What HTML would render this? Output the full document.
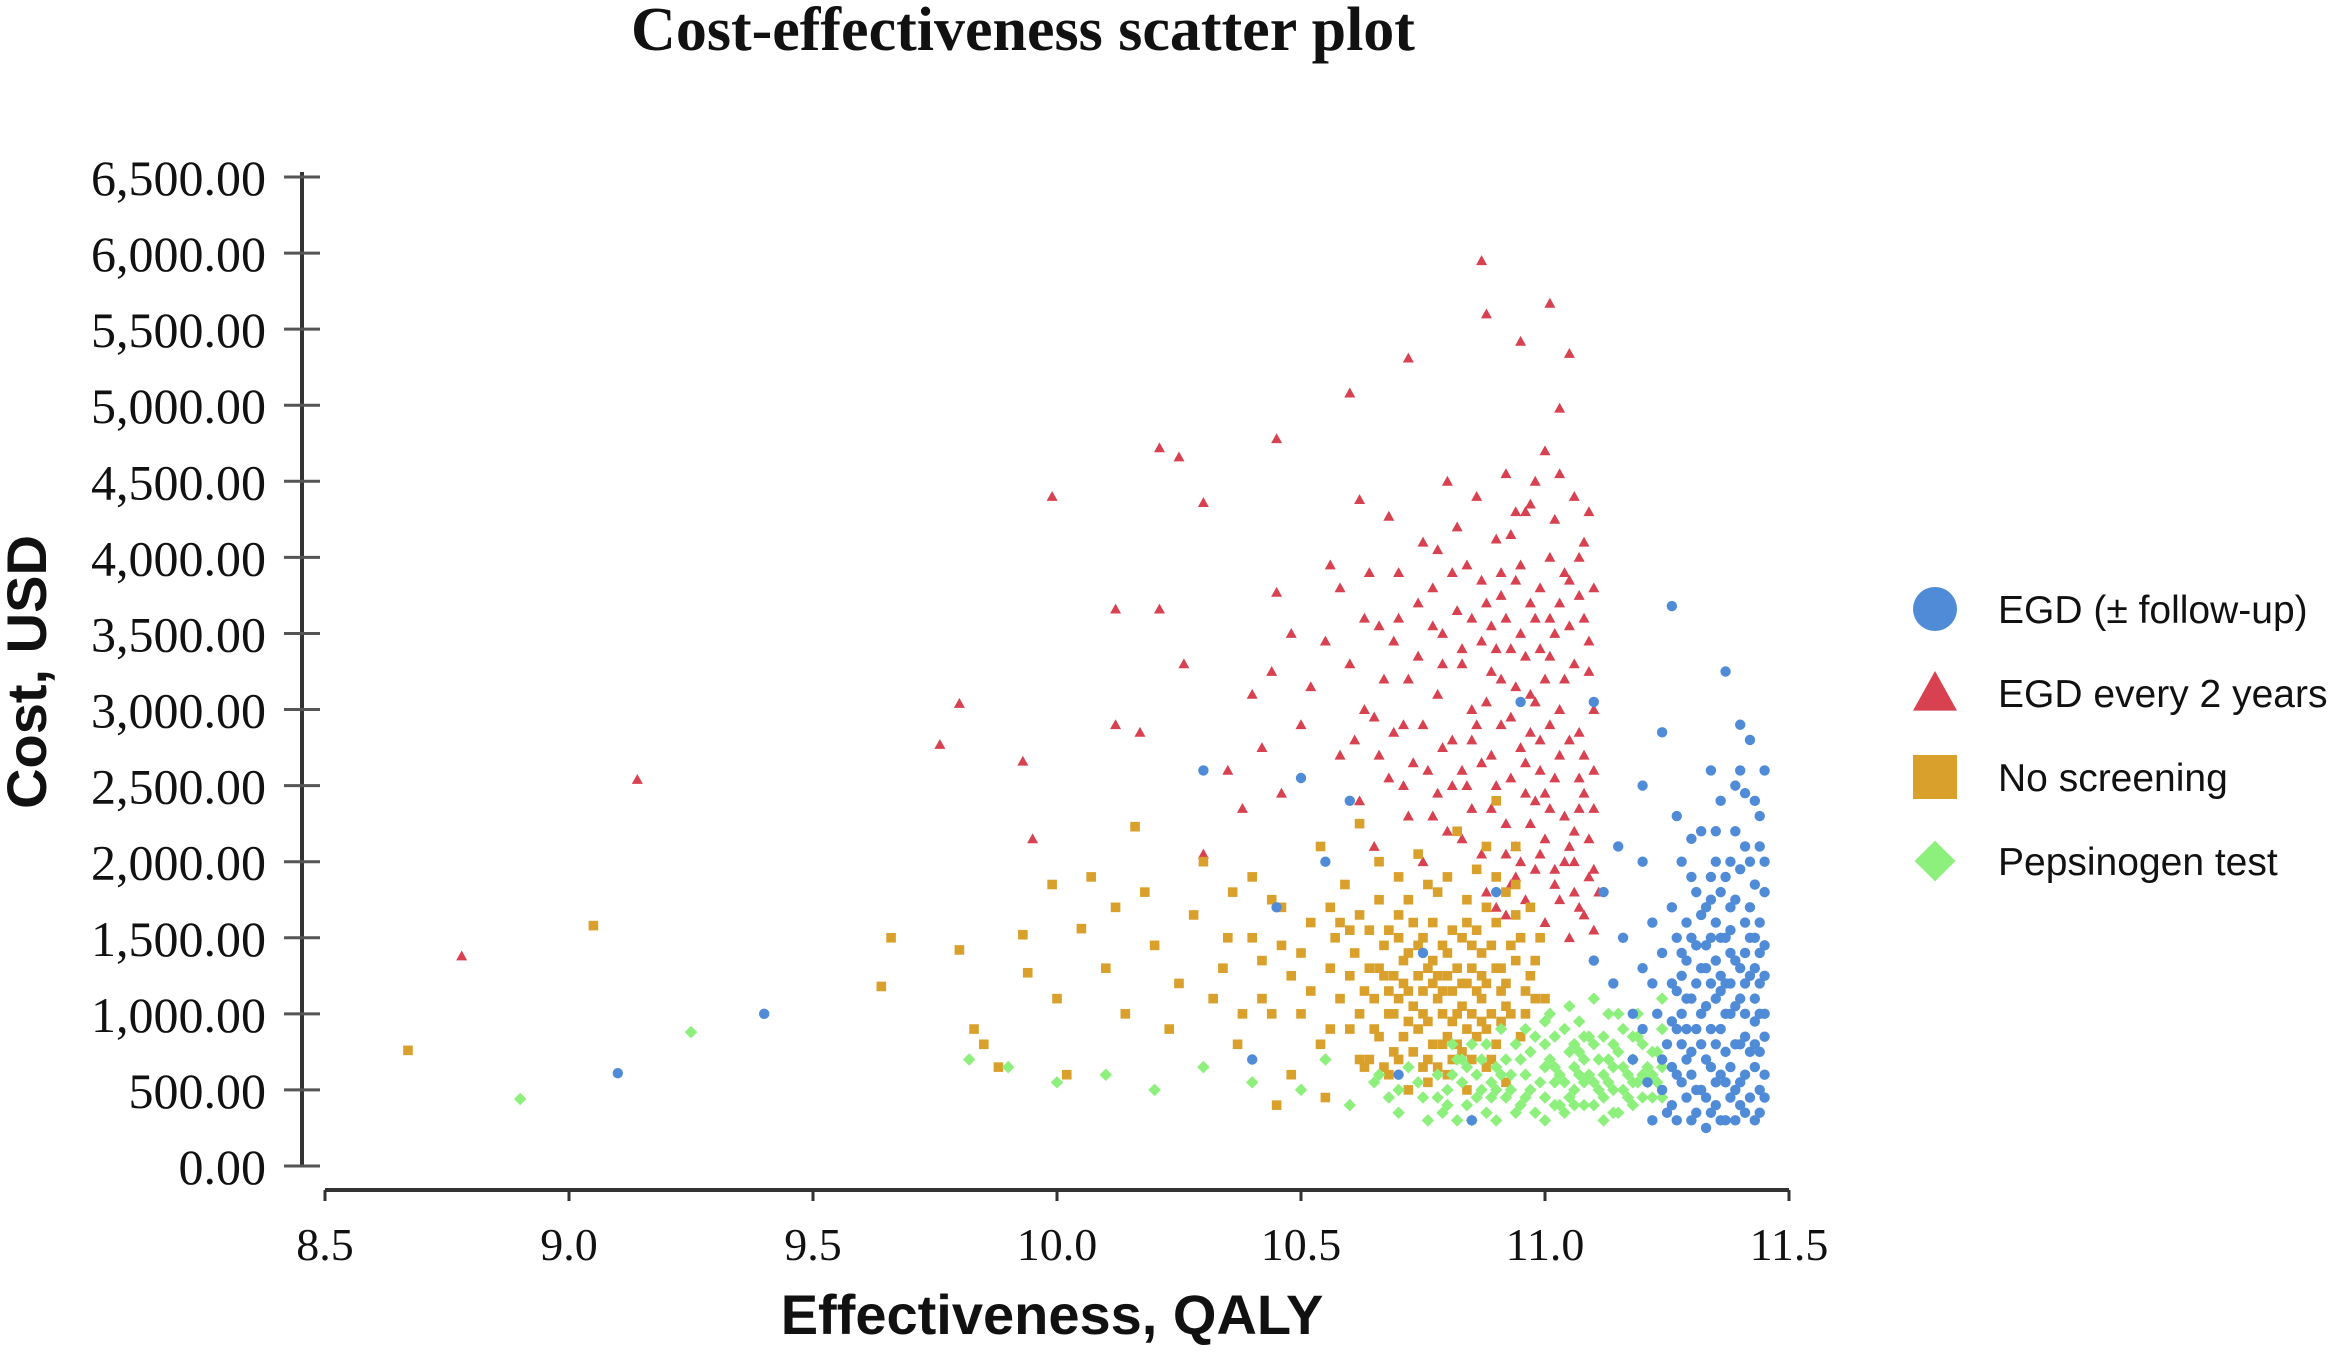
<!DOCTYPE html>
<html><head><meta charset="utf-8"><style>
html,body{margin:0;padding:0;background:#fff;}
svg{display:block;}
</style></head><body>
<svg id="chart" width="2341" height="1365" viewBox="0 0 2341 1365" xmlns="http://www.w3.org/2000/svg">
<text x="1023" y="50" text-anchor="middle" font-family="Liberation Serif, serif" font-weight="bold" font-size="62" fill="#111">Cost-effectiveness scatter plot</text>
<g id="axes"></g>
<g id="marks"></g>
<text transform="translate(46,672) rotate(-90)" text-anchor="middle" font-family="Liberation Sans, sans-serif" font-weight="bold" font-size="56" fill="#111">Cost, USD</text>
<text x="1052" y="1334" text-anchor="middle" font-family="Liberation Sans, sans-serif" font-weight="bold" font-size="56" fill="#111">Effectiveness, QALY</text>
<g id="legend"></g>
</svg>
<script>
const yTicks=[0,500,1000,1500,2000,2500,3000,3500,4000,4500,5000,5500,6000,6500];
const yTickLabels=["0.00","500.00","1,000.00","1,500.00","2,000.00","2,500.00","3,000.00","3,500.00","4,000.00","4,500.00","5,000.00","5,500.00","6,000.00","6,500.00"];
const xTicks=[8.5,9.0,9.5,10.0,10.5,11.0,11.5];
const xTickLabels=["8.5","9.0","9.5","10.0","10.5","11.0","11.5"];
const seriesNames=["EGD (± follow-up)","EGD every 2 years","No screening","Pepsinogen test"];
const redPts=[[8.78,1380],[9.14,2540],[9.76,2770],[9.8,3040],[9.93,2660],[9.95,2150],[9.99,4400],[10.12,3660],[10.12,2900],[10.17,2850],[10.21,4720],[10.21,3660],[10.25,4660],[10.26,3300],[10.3,4360],[10.45,4780],[10.45,3770],[10.6,5080],[10.72,5310],[10.87,5950],[10.88,5600],[11.01,5670],[11.03,4980],[11.05,5340],[10.95,5420],[10.48,3500],[10.4,3100],[10.35,2600],[10.3,2050],[10.55,3450],[10.5,2900],[10.58,2700],
[10.62,4380],[10.64,3900],[10.68,4270],[10.7,3600],[10.72,3200],[10.75,4100],[10.77,3800],[10.8,4500],[10.82,4200],[10.84,3950],[10.86,4400],[10.88,3700],[10.9,4120],[10.92,4550],[10.94,3850],[10.96,4300],[10.98,3600],[11.0,4700],[11.02,4250],[11.04,3900],[11.06,4400],[11.08,4100],
[10.6,3300],[10.63,3000],[10.66,2700],[10.69,3450],[10.71,2900],[10.74,3350],[10.76,2600],[10.78,3100],[10.79,3500],[10.81,2800],[10.83,3300],[10.85,3000],[10.87,3450],[10.89,2700],[10.91,3200],[10.93,2950],[10.95,3500],[10.97,3100],[10.99,2800],[11.01,3350],[11.03,3000],[11.05,3550],[11.07,2850],[11.09,3250],
[10.62,2400],[10.65,2100],[10.68,2550],[10.72,2300],[10.75,2000],[10.78,2450],[10.8,2200],[10.83,2600],[10.85,2350],[10.87,2050],[10.9,2500],[10.92,2250],[10.94,1900],[10.96,2650],[10.98,2400],[11.0,2150],[11.02,2550],[11.04,2300],[11.06,2000],[11.08,2700],[11.1,2350],
[10.88,1800],[10.92,1650],[10.96,1750],[11.0,1600],[11.02,1850],[11.05,1500],[11.07,1700],[11.09,1900],[11.1,1550],[10.98,1950],[10.94,2100],[11.04,2000],[11.06,2200],[11.08,2450],[11.1,3000],[10.99,3800],[11.01,4000],[10.97,4350],[10.93,3400],[10.91,3750],[10.89,3250],[10.86,2900],[10.84,2500],[10.82,3650],[10.78,4050],[10.74,3700],[10.7,3900],[10.66,3550],[10.56,3950],[10.52,3150],[10.58,3800],[10.44,3250],[10.42,2750],[10.38,2350],[10.46,2450],
[10.9,1700],[10.93,1850],[10.95,2000],[10.97,2250],[10.99,2050],[11.01,2350],[11.03,1750],[11.05,2100],[11.07,2350],[11.09,2150],[11.11,1800],[11.08,1650],[11.1,2600],[11.07,2550],[11.05,2800],[11.03,2700],[11.01,2900],[10.99,2600],[10.97,2850],[10.95,2750],[10.93,2550],[10.91,2900],[10.89,2350],[10.87,2650],[10.85,2800],[10.83,2150],[10.81,2500],[10.79,2750],[10.77,2300],[10.73,2650],[10.71,2500],[10.69,2850],[10.67,3200],[10.65,2950],[10.63,3600],[10.61,2800],[10.88,3050],[10.9,3400],[10.92,3600],[10.94,3150],[10.96,3350],[10.98,3050],[11.0,3200],[11.02,3500],[11.04,3200],[11.06,3300],[11.08,3600],[11.09,3450],[11.07,3750],[11.05,3850],[11.03,3700],[11.01,3600],[10.99,3400],[10.97,3700],[10.95,3950],[10.93,4150],[10.91,3900],[10.89,3550],[10.87,3850],[10.85,3600],[10.83,3400],[10.81,3900],[10.79,3300],[10.77,3550],[10.75,2900],[11.09,4300],[11.07,4000],[11.03,4550],[10.98,4500],[10.94,4300],[11.1,3800],[11.1,1950],[11.06,1800],[11.02,1950],[11.0,2450],[10.96,2450],[10.92,2050]];
const orangePts=[[8.67,760],[9.05,1580],[9.64,1180],[9.66,1500],[9.8,1420],[9.83,900],[9.85,800],[9.88,650],[9.93,1520],[9.94,1270],[9.99,1850],[10.0,1100],[10.02,600],[10.05,1560],[10.07,1900],[10.1,1300],[10.12,1700],[10.14,1000],[10.16,2230],[10.18,1800],[10.2,1450],[10.23,900],[10.25,1200],[10.28,1650],[10.3,2000],[10.32,1100],[10.35,1500],[10.37,800],[10.4,1900],[10.42,1350],[10.44,1000],[10.46,1700],[10.48,600],[10.5,1400],[10.52,1150],[10.54,2100],[10.56,900],[10.58,1600],[10.6,1250],[10.62,2250],[10.64,700],[10.45,400],[10.55,450],
[10.62,1000],[10.64,1300],[10.66,850],[10.68,1150],[10.7,1500],[10.72,950],[10.74,1250],[10.76,700],[10.78,1100],[10.8,1400],[10.82,800],[10.84,1200],[10.86,1550],[10.88,900],[10.9,1300],[10.92,1050],[10.94,1650],[10.96,1150],[10.98,1350],
[10.63,650],[10.65,1100],[10.67,1450],[10.69,750],[10.71,1200],[10.73,1600],[10.75,1000],[10.77,1350],[10.79,800],[10.81,1150],[10.83,1500],[10.85,1000],[10.87,1250],[10.89,700],[10.91,1150],[10.93,1450],[10.95,850],[10.97,1250],[11.0,1100],
[10.66,1750],[10.7,1900],[10.74,2050],[10.78,1800],[10.82,2200],[10.86,1950],[10.9,2400],[10.94,2100],[10.68,600],[10.72,500],[10.76,550],[10.8,600],[10.84,500],[10.88,650],[10.92,550],[10.79,1000],[10.81,950],[10.83,1050],[10.85,1300],[10.87,1100],[10.77,1200],[10.75,1500],[10.71,1350],[10.69,1000],[10.67,1250],[10.59,1850],[10.57,1500],
[10.6,900],[10.61,1400],[10.62,700],[10.63,1150],[10.64,1550],[10.65,900],[10.66,1300],[10.67,650],[10.68,1000],[10.68,1550],[10.69,1250],[10.7,700],[10.7,1100],[10.71,850],[10.72,1400],[10.72,1150],[10.73,750],[10.73,1050],[10.74,900],[10.74,1450],[10.75,1150],[10.75,650],[10.76,1300],[10.76,950],[10.77,800],[10.77,1600],[10.78,1250],[10.78,650],[10.79,1450],[10.79,1150],[10.8,850],[10.8,1250],[10.81,700],[10.81,1550],[10.82,1000],[10.82,1300],[10.83,750],[10.83,1200],[10.84,900],[10.84,1600],[10.85,700],[10.85,1450],[10.86,850],[10.86,1150],[10.87,1400],[10.87,950],[10.88,1200],[10.88,1700],[10.89,1000],[10.89,1450],[10.9,800],[10.9,1600],[10.91,1300],[10.91,950],[10.92,1200],[10.92,1800],[10.93,1000],[10.94,1350],[10.95,1500],[10.96,1000],[10.97,1700],[10.98,1100],[10.99,1500],[10.58,1100],[10.56,1300],[10.54,800],[10.52,1600],[10.5,1000],[10.48,1250],[10.46,1450],[10.44,1750],[10.42,1100],[10.4,1500],[10.38,1000],[10.36,1800],[10.34,1300],[10.62,1650],[10.66,2000],[10.72,1750],[10.8,1900],[10.84,1750],[10.88,2100],[10.9,1900],[10.94,1850],[10.76,1850],[10.7,1650],[10.6,1550],[10.56,1700]];
const greenPts=[[8.9,440],[9.25,880],[9.82,700],[9.9,650],[10.0,550],[10.1,600],[10.2,500],[10.3,650],[10.4,550],[10.5,500],[10.55,700],[10.6,400],[10.65,550],[10.7,350],[10.75,450],
[10.78,600],[10.8,500],[10.82,700],[10.84,400],[10.86,600],[10.88,800],[10.9,500],[10.92,700],[10.94,350],[10.96,600],[10.98,850],[11.0,450],[11.02,650],[11.04,900],[11.06,500],[11.08,700],[11.1,400],[11.12,600],[11.14,800],[11.16,500],[11.18,700],[11.2,450],[11.22,600],[11.24,900],
[10.79,350],[10.81,800],[10.83,550],[10.85,300],[10.87,700],[10.89,450],[10.91,900],[10.93,600],[10.95,400],[10.97,750],[10.99,550],[11.01,1000],[11.03,400],[11.05,750],[11.07,600],[11.09,850],[11.11,500],[11.13,700],[11.15,350],[11.17,600],[11.19,850],[11.21,550],[11.23,750],[11.1,1100],[11.15,1000],[11.05,1050],[11.12,300],[11.0,300],[10.9,300],[11.18,400],[11.08,550],[11.14,650],[11.06,800],[11.02,550],
[10.8,400],[10.82,300],[10.84,650],[10.86,450],[10.88,350],[10.9,650],[10.92,450],[10.94,800],[10.96,450],[10.98,350],[11.0,650],[11.0,800],[11.02,400],[11.02,850],[11.04,550],[11.04,350],[11.06,650],[11.06,400],[11.08,850],[11.08,400],[11.1,550],[11.1,800],[11.12,450],[11.12,850],[11.14,500],[11.14,350],[11.16,650],[11.16,900],[11.18,550],[11.18,850],[11.2,600],[11.2,800],[11.22,450],[11.22,750],[11.24,650],[11.24,450],[11.01,700],[11.03,600],[11.05,450],[11.07,750],[11.09,600],[11.11,700],[11.13,550],[11.15,750],[11.17,450],[11.19,550],[11.21,650],[11.23,550],[10.97,500],[10.95,700],[10.93,500],[10.91,600],[10.89,550],[10.87,500],[10.85,800],[10.83,700],[10.81,600],[10.78,450],[10.76,300],[10.74,550],[10.72,650],[10.7,500],[10.68,450],[10.66,600],[11.13,1000],[11.07,950],[11.19,1000],[11.24,1100],[11.0,950],[10.96,900]];
const bluePts=[[9.1,610],[9.4,1000],[10.3,2600],[10.5,2550],[10.55,2000],[10.45,1700],[10.75,1400],[10.9,1800],[10.95,3050],[11.1,3050],[11.26,3680],[11.37,3250],[11.24,2850],[11.2,2500],[11.15,2100],[10.85,300],[10.7,600],[10.4,700],[10.6,2400],
[11.26,400],[11.27,900],[11.28,1400],[11.29,700],[11.3,1100],[11.31,1800],[11.32,500],[11.33,1300],[11.34,900],[11.35,2000],[11.36,600],[11.37,1500],[11.38,1000],[11.39,2200],[11.4,400],[11.41,1200],[11.42,1700],[11.43,800],[11.44,1400],[11.45,1000],
[11.26,1200],[11.27,600],[11.28,1000],[11.29,1600],[11.3,300],[11.31,900],[11.32,1300],[11.33,700],[11.34,1900],[11.35,1100],[11.36,1500],[11.37,300],[11.38,1700],[11.39,800],[11.4,1300],[11.41,600],[11.42,2000],[11.43,1100],[11.44,500],[11.45,1800],
[11.25,800],[11.27,1500],[11.29,1100],[11.31,500],[11.33,1700],[11.35,800],[11.37,1200],[11.39,500],[11.41,1000],[11.43,1500],[11.45,600],[11.28,2000],[11.32,2200],[11.36,2400],[11.4,2600],[11.44,2300],[11.42,2800],[11.38,2000],[11.34,1500],[11.3,1900],[11.26,1700],[11.22,1200],[11.2,900],[11.18,700],[11.24,500],[11.22,300],[11.43,300],[11.33,250],[11.38,1400],[11.41,1600],[11.36,900],[11.44,1200],
[11.25,350],[11.26,650],[11.26,950],[11.27,1150],[11.27,300],[11.28,550],[11.28,800],[11.28,1250],[11.29,450],[11.29,900],[11.29,1350],[11.3,600],[11.3,750],[11.3,1500],[11.31,350],[11.31,1200],[11.31,1450],[11.32,800],[11.32,1000],[11.32,1650],[11.33,450],[11.33,1050],[11.33,1450],[11.34,350],[11.34,650],[11.34,1200],[11.34,1750],[11.35,400],[11.35,550],[11.35,1350],[11.35,1600],[11.36,300],[11.36,1150],[11.36,1250],[11.36,1800],[11.37,550],[11.37,750],[11.37,1000],[11.37,1900],[11.38,450],[11.38,650],[11.38,1200],[11.38,1550],[11.39,300],[11.39,1050],[11.39,1350],[11.39,1750],[11.4,550],[11.4,800],[11.4,1100],[11.4,1950],[11.41,350],[11.41,850],[11.41,1400],[11.41,2100],[11.42,450],[11.42,750],[11.42,1250],[11.42,1500],[11.43,650],[11.43,950],[11.43,1300],[11.43,1850],[11.44,350],[11.44,750],[11.44,1000],[11.44,1600],[11.45,450],[11.45,850],[11.45,1250],[11.45,1450],[11.45,2000],[11.44,2100],[11.43,2400],[11.41,2450],[11.39,2500],[11.35,2200],[11.3,2150],[11.27,2300],[11.34,2600],[11.4,2900],[11.45,2600],[11.23,1000],[11.24,1400],[11.22,1600],[11.2,1300],[11.18,1000],[11.16,1500],[11.14,1200],[11.12,1800],[11.2,2000],[11.1,1350],[11.24,700],[11.21,550]];

const NS="http://www.w3.org/2000/svg";
const X0=325,X1=1789,Y0=1166,Y1=177;
function xs(v){return X0+(v-8.5)/(11.5-8.5)*(X1-X0);}
function ys(v){return Y0-(v/6500)*(Y0-Y1);}
function mk(tag,attrs,parent){const e=document.createElementNS(NS,tag);for(const k in attrs)e.setAttribute(k,attrs[k]);parent.appendChild(e);return e;}
const axes=document.getElementById('axes');
let l=mk('line',{x1:302,y1:172,x2:302,y2:Y0,stroke:'#333','stroke-width':4},axes);


l=mk('line',{x1:X0,y1:1190,x2:X1,y2:1190,stroke:'#333','stroke-width':4},axes);


yTicks.forEach((v,i)=>{
  const t=mk('line',{x1:284,y1:ys(v),x2:320,y2:ys(v),stroke:'#555','stroke-width':3},axes);
  
  
  const tx=mk('text',{x:266,y:ys(v)+18,'text-anchor':'end','font-family':'Liberation Serif, serif','font-size':50,fill:'#111'},axes);
  tx.textContent=yTickLabels[i];
  
  
});
xTicks.forEach((v,i)=>{
  const t=mk('line',{x1:xs(v),y1:1190,x2:xs(v),y2:1201,stroke:'#333','stroke-width':3},axes);
  
  
  const tx=mk('text',{x:xs(v),y:1260,'text-anchor':'middle','font-family':'Liberation Serif, serif','font-size':46,fill:'#111'},axes);
  tx.textContent=xTickLabels[i];
  
  
});
const marks=document.getElementById('marks');
function tri(cx,cy,s){return `${cx},${cy-s} ${cx-s},${cy+s*0.8} ${cx+s},${cy+s*0.8}`;}
function dia(cx,cy,s){return `${cx},${cy-s} ${cx+s},${cy} ${cx},${cy+s} ${cx-s},${cy}`;}
function drawShape(kind,cx,cy,s,color,parent){
  if(kind==='circle')return mk('circle',{cx:cx,cy:cy,r:s,fill:color},parent);
  if(kind==='tri')return mk('polygon',{points:tri(cx,cy,s),fill:color},parent);
  if(kind==='sq')return mk('rect',{x:cx-s,y:cy-s,width:2*s,height:2*s,fill:color},parent);
  return mk('polygon',{points:dia(cx,cy,s*1.2),fill:color},parent);
}
const groups=[
  {pts:redPts,kind:'tri',color:'#d8414f',name:'egd-every-2-years-point',s:5.5},
  {pts:orangePts,kind:'sq',color:'#d9a02c',name:'no-screening-point',s:4.8},
  {pts:greenPts,kind:'dia',color:'#8ef07c',name:'pepsinogen-test-point',s:5.2},
  {pts:bluePts,kind:'circle',color:'#4f8bd6',name:'egd-follow-up-point',s:5.2}
];
groups.forEach(g=>{
  g.pts.forEach(p=>{
    const e=drawShape(g.kind,xs(p[0]),ys(p[1]),g.s,g.color,marks);
    
    
  });
});
const legend=document.getElementById('legend');
const legKinds=[['circle','#4f8bd6'],['tri','#d8414f'],['sq','#d9a02c'],['dia','#8ef07c']];
seriesNames.forEach((n,i)=>{
  const cy=609+i*84;
  const e=drawShape(legKinds[i][0],1935,cy,legKinds[i][0]==='tri'?22:(legKinds[i][0]==='dia'?17:22),legKinds[i][1],legend);
  
  
  const t=mk('text',{x:1998,y:cy+14,'font-family':'Liberation Sans, sans-serif','font-size':39,fill:'#111'},legend);
  t.textContent=n;
  
  
});
</script>
</body></html>
